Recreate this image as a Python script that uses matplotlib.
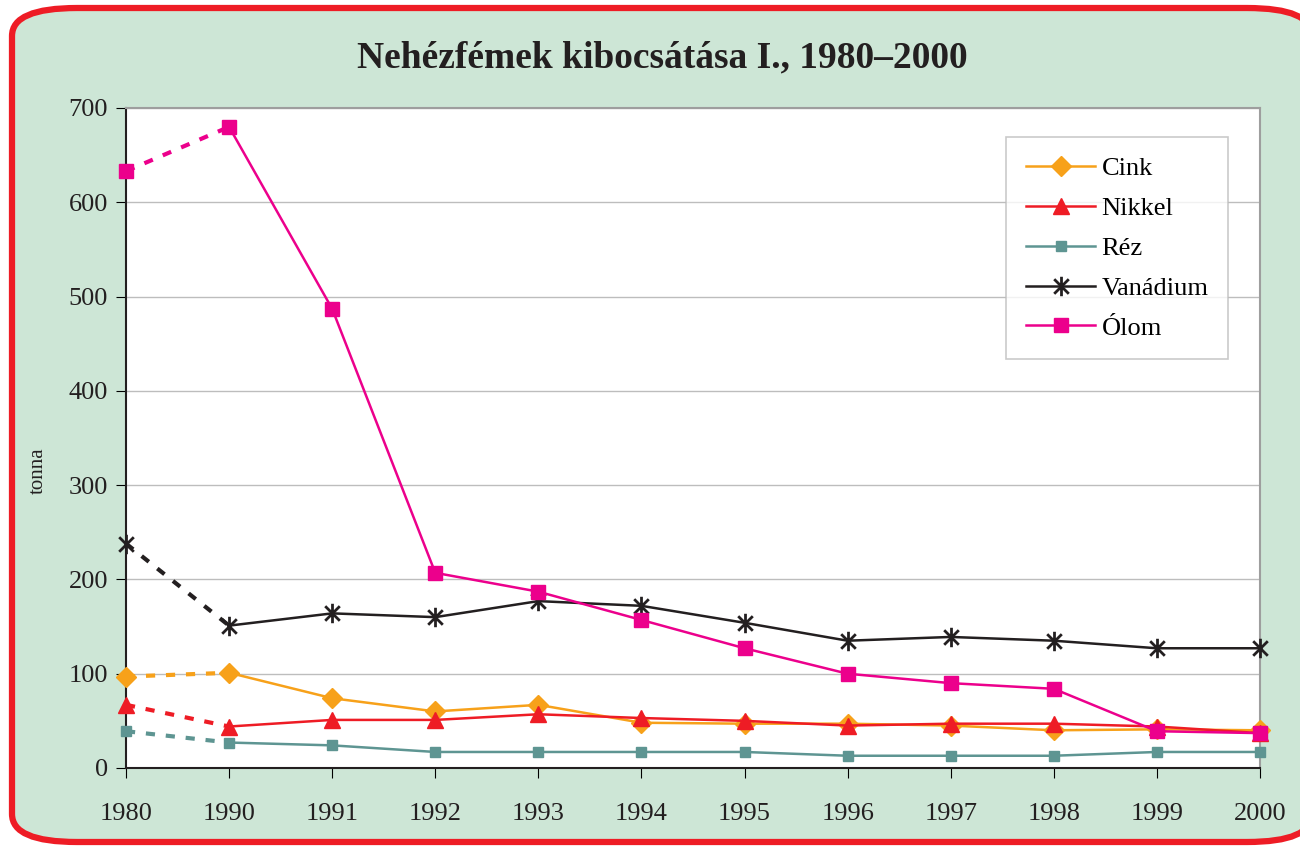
import matplotlib.pyplot as plt
from matplotlib.patches import FancyBboxPatch
from matplotlib.path import Path

years = ['1980', '1990', '1991', '1992', '1993', '1994', '1995',
         '1996', '1997', '1998', '1999', '2000']

cink = [97, 101, 74, 60, 67, 48, 47, 47, 45, 40, 41, 40]
nikkel = [67, 44, 51, 51, 57, 53, 50, 45, 47, 47, 44, 37]
rez = [39, 27, 24, 17, 17, 17, 17, 13, 13, 13, 17, 17]
vanadium = [238, 151, 164, 160, 177, 172, 154, 135, 139, 135, 127, 127]
olom = [633, 680, 487, 207, 187, 157, 127, 100, 90, 84, 39, 37]

# excel-like star: vertical bar plus an X
star = Path([(0, -1), (0, 1), (-0.75, -0.75), (0.75, 0.75), (-0.75, 0.75), (0.75, -0.75)],
            [Path.MOVETO, Path.LINETO, Path.MOVETO, Path.LINETO, Path.MOVETO, Path.LINETO])

series = [
    ('Cink', cink, '#F7A11A', 'D', 10),
    ('Nikkel', nikkel, '#EE1C25', '^', 11),
    ('Réz', rez, '#5E9592', 's', 7),
    ('Vanádium', vanadium, '#231F20', star, 14),
    ('Ólom', olom, '#EC008C', 's', 10),
]

plt.rcParams['font.family'] = ['Liberation Serif', 'DejaVu Serif']

fig = plt.figure(figsize=(13, 8.52), dpi=100)
fig.patch.set_facecolor('white')

# rounded green panel with red border
frame = FancyBboxPatch((12 / 1300, 10 / 852), 1300 / 1300, 834 / 852,
                       boxstyle='round,pad=0,rounding_size=0.05',
                       transform=fig.transFigure, facecolor='#CDE6D6',
                       edgecolor='#EE1C25', linewidth=4.5, zorder=-5,
                       mutation_aspect=852 / 1300)
fig.patches.append(frame)

ax = fig.add_axes([126 / 1300, 1 - 768 / 852, (1260 - 126) / 1300, (768 - 108) / 852])
ax.set_zorder(2)
ax.set_facecolor('white')

x = list(range(len(years)))
handles = []
for name, vals, col, mk, ms in series:
    mew = 2 if mk is star else 1
    # 1980 -> 1990 gap drawn dashed
    ax.plot(x[:2], vals[:2], color=col, lw=3, linestyle=(0, (2.2, 2.6)), zorder=2)
    ax.plot(x[:1], vals[:1], linestyle='none', marker=mk, ms=ms, color=col,
            markeredgecolor=col, markeredgewidth=mew, zorder=3, clip_on=False)
    h, = ax.plot(x[1:], vals[1:], color=col, lw=1.8, marker=mk, ms=ms,
                 markeredgecolor=col, markeredgewidth=mew,
                 label=name, zorder=3, clip_on=False)
    handles.append(h)

ax.set_xlim(0, len(years) - 1)
ax.set_ylim(0, 700)
ax.set_xticks(x)
ax.set_xticklabels(years)
ax.set_yticks(range(0, 701, 100))
ax.grid(axis='y', color='#BDBDBD', lw=1)
ax.set_axisbelow(True)
ax.tick_params(axis='both', labelsize=19, direction='out', length=7, color='black',
               labelcolor='#231F20')
ax.tick_params(axis='x', pad=18)
ax.tick_params(axis='y', pad=6)
for s in ['top', 'right']:
    ax.spines[s].set_color('#9E9E9E')
    ax.spines[s].set_linewidth(1.5)
for s in ['left', 'bottom']:
    ax.spines[s].set_color('#231F20')
    ax.spines[s].set_linewidth(1.5)

ax.set_ylabel('tonna', fontsize=15, color='#231F20')
ax.yaxis.set_label_coords(-0.069, 0.45)

leg = ax.legend(handles=handles, loc='upper right', bbox_to_anchor=(0.972, 0.956),
                borderaxespad=0, fontsize=19, frameon=True, fancybox=False,
                edgecolor='#BDBDBD', handlelength=2.6, labelspacing=0.62,
                borderpad=0.75, handletextpad=0.25)
leg.get_frame().set_linewidth(1.2)

fig.text(662 / 1300, 1 - 58 / 852, 'Nehézfémek kibocsátása I., 1980–2000', ha='center',
         va='center', fontsize=27, fontweight='bold', color='#231F20')

fig.savefig('out.png', dpi=100)
